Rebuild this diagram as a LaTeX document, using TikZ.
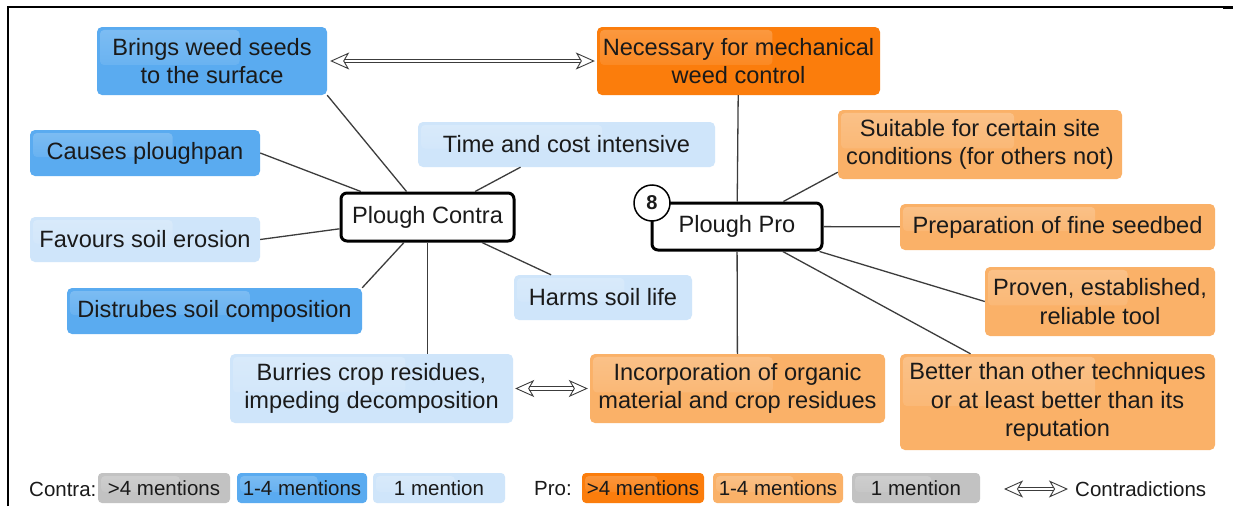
\documentclass[tikz,border=0pt]{standalone}
\usepackage{fontspec}
\setmainfont{Liberation Sans}
\usetikzlibrary{calc,arrows.meta,fadings}

\definecolor{medblue}{HTML}{5AABF0}
\definecolor{lightblue}{HTML}{CFE5FA}
\definecolor{darkorange}{HTML}{FB7D0C}
\definecolor{lightorange}{HTML}{FAB168}
\definecolor{legendgray}{HTML}{C2C2C2}
\definecolor{linegray}{HTML}{3C3C3C}
\definecolor{txt}{HTML}{1A1A1A}

\tikzset{
  gloss/.style={path picture={
      \fill[white, fill opacity=0.22, path fading=south, rounded corners=4pt]
        ($(path picture bounding box.north west)+(3pt,-3pt)$) rectangle
        ($(path picture bounding box.west)!0.62!(path picture bounding box.east)+(0pt,-4pt)$);}},
  card/.style={rounded corners=5pt, inner sep=0pt, align=center, text=txt,
    font=\fontsize{23.6}{28.5}\selectfont, gloss},
  medb/.style={card, fill=medblue},
  lightb/.style={card, fill=lightblue},
  darko/.style={card, fill=darkorange},
  lighto/.style={card, fill=lightorange},
  hub/.style={draw=black, line width=3pt, rounded corners=6pt, fill=white,
    inner sep=0pt, text=txt, font=\fontsize{23.6}{28.5}\selectfont},
  link/.style={draw=linegray, line width=1.3pt},
  contradiction/.style={draw=linegray, line width=0.9pt, double=white,
    double distance=2.6pt,
    {Stealth[open, length=19pt, width=17pt, inset=5pt]}-{Stealth[open, length=19pt, width=17pt, inset=5pt]}},
  legbox/.style={rounded corners=4pt, inner sep=0pt, text=txt,
    font=\fontsize{20.5}{24}\selectfont, minimum height=30pt, gloss},
  legtext/.style={inner sep=0pt, text=txt, font=\fontsize{20.5}{24}\selectfont, anchor=west},
}

\begin{document}
\begin{tikzpicture}[x=1pt, y=-1pt]
\useasboundingbox (0,0) rectangle (1233,506);
\fill[white] (0,0) rectangle (1233,506);

% frame
\draw[line width=2pt] (8,506) -- (8,7) -- (1233,7);
\draw[line width=3.5pt] (1223,7.6) -- (1233,7.6);

% contra side
\node[medb, minimum width=230, minimum height=68] (brings) at (212,61) {Brings weed seeds\\to the surface};
\node[medb, minimum width=230, minimum height=46] (causes) at (145,153) {Causes ploughpan};
\node[lightb, minimum width=297, minimum height=45] (time) at (566.5,144.5) {Time and cost intensive};
\node[lightb, minimum width=230, minimum height=45] (favours) at (145,239.5) {Favours soil erosion};
\node[medb, minimum width=295, minimum height=46] (distrubes) at (214.5,311) {Distrubes soil composition};
\node[lightb, minimum width=178, minimum height=45] (harms) at (603,297.5) {Harms soil life};
\node[lightb, minimum width=283, minimum height=69] (burries) at (371.5,388.5) {Burries crop residues,\\impeding decomposition};

% pro side
\node[darko, minimum width=283, minimum height=68] (necessary) at (738.5,61) {Necessary for mechanical\\weed control};
\node[lighto, minimum width=284, minimum height=69] (suitable) at (980,144.5) {Suitable for certain site\\conditions (for others not)};
\node[lighto, minimum width=315, minimum height=46] (prep) at (1057.5,227) {Preparation of fine seedbed};
\node[lighto, minimum width=230, minimum height=69] (proven) at (1100,301.5) {Proven, established,\\reliable tool};
\node[lighto, minimum width=295, minimum height=69] (incorp) at (737.5,388.5) {Incorporation of organic\\material and crop residues};
\node[lighto, minimum width=315, minimum height=96] (better) at (1057.5,402) {Better than other techniques\\or at least better than its\\reputation};

% hubs
\node[hub, minimum width=173, minimum height=48] (contra) at (427.5,217) {Plough Contra};
\node[hub, minimum width=170, minimum height=47] (pro) at (737,226.5) {Plough Pro};
\node[circle, draw=black, line width=1.5pt, fill=white, minimum size=36pt, inner sep=0pt,
  text=txt, font=\fontsize{20}{24}\selectfont\bfseries] (badge) at (652,203) {8};

% links of the contra hub
\draw[link] (contra) -- (brings.south east);
\draw[link] (contra) -- (causes.east);
\draw[link] (contra) -- ($(time.south)+(-46pt,0pt)$);
\draw[link] (contra) -- (favours.east);
\draw[link] (contra) -- (distrubes.north east);
\draw[link] (contra) -- ($(harms.north)+(-52pt,0pt)$);
\draw[link] (contra.south) -- (contra.south |- burries.north);

% links of the pro hub
\draw[link] (pro) -- (necessary);
\draw[link] (pro) -- ($(suitable.south west)+(0pt,7pt)$);
\draw[link] (pro) -- (prep);
\draw[link] (pro) -- (proven.west);
\draw[link] (pro) -- ($(better.north)+(-87pt,0pt)$);
\draw[link] (pro) -- (incorp);

% contradictions
\draw[contradiction] ([xshift=3pt]brings.east) -- ([xshift=-2pt]necessary.west);
\draw[contradiction] ([xshift=2pt]burries.east) -- ([xshift=-2pt]incorp.west);

% legend
\node[legtext] (lcontra) at (29,489) {Contra:};
\node[legbox, fill=legendgray, minimum width=132] (l1) at (164,488) {>4 mentions};
\node[legbox, fill=medblue, minimum width=130] (l2) at (302,488) {1-4 mentions};
\node[legbox, fill=lightblue, minimum width=132] (l3) at (439,488) {1 mention};
\node[legtext] (lpro) at (534,489) {Pro:};
\node[legbox, fill=darkorange, minimum width=122] (l4) at (643,488) {>4 mentions};
\node[legbox, fill=lightorange, minimum width=130] (l5) at (778,488) {1-4 mentions};
\node[legbox, fill=legendgray, minimum width=128] (l6) at (916,488) {1 mention};
\coordinate (la) at (1004,489);
\coordinate (lb) at (1068,489);
\draw[contradiction] (la) -- (lb);
\node[legtext] (lcontr) at (1075,489) {Contradictions};
\end{tikzpicture}
\end{document}
